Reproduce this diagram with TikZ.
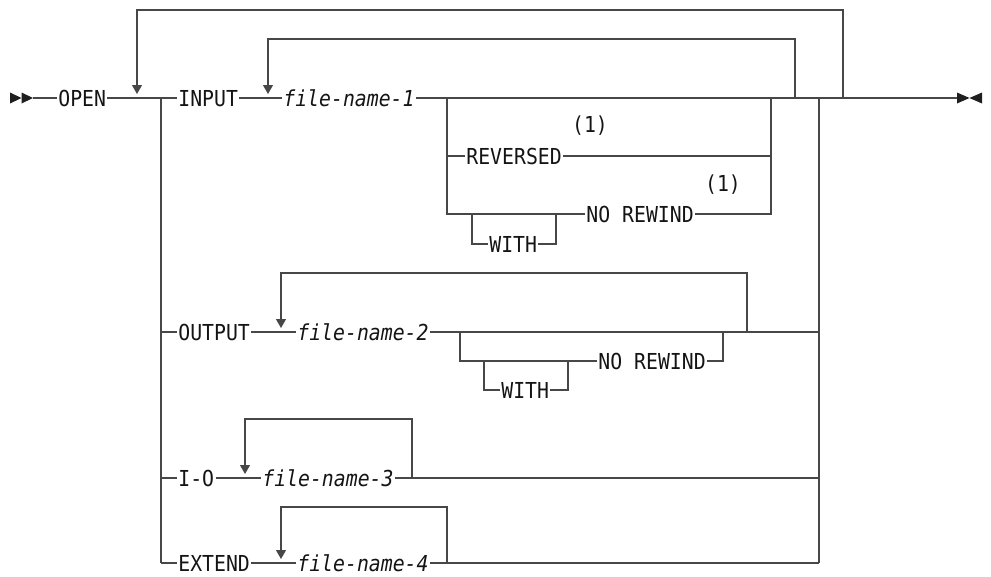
\documentclass[tikz,border=0pt]{standalone}
\usepackage{fontspec}
\setmonofont[FakeStretch=0.9]{DejaVu Sans Mono}
\usetikzlibrary{arrows.meta}
\begin{document}
\begin{tikzpicture}[x=1pt,y=-1pt,
  kw/.style={font=\ttfamily\fontsize{22}{22}\selectfont, text=black!92,
    anchor=west, inner xsep=1.2pt, inner ysep=0pt, text height=16pt, text depth=0pt},
  var/.style={kw, font=\ttfamily\itshape\fontsize{22}{22}\selectfont},
  note/.style={font=\ttfamily\fontsize{22}{22}\selectfont, text=black!92, inner sep=0pt},
  ln/.style={draw=black!72, line width=1.2pt},
  back/.style={ln, -{Triangle[width=10pt,length=9pt]}},
  tip/.style={fill=black!88, draw=none}]
\useasboundingbox (0,0) rectangle (991,576);

% ---------- INPUT row / main line ----------
\coordinate (s0) at (10,98);
\coordinate (s1) at (33,98);
\node[kw] (open) at (57,98) {OPEN};
\coordinate (oa) at (137,98);
\coordinate (b1) at (161,98);
\node[kw] (input) at (177,98) {INPUT};
\coordinate (ia) at (268,98);
\node[var] (fn1) at (282,98) {file-name-1};
\coordinate (rj) at (447,98);
\coordinate (rk) at (771,98);
\coordinate (ir) at (795,98);
\coordinate (br) at (819,98);
\coordinate (or) at (843,98);
\coordinate (e0) at (957,98);

\fill[tip] (10,92.5) -- (21.5,98) -- (10,103.5) -- cycle;
\fill[tip] (21.5,92.5) -- (33,98) -- (21.5,103.5) -- cycle;
\fill[tip] (957,92.5) -- (969.5,98) -- (957,103.5) -- cycle;
\fill[tip] (982,92.5) -- (969.5,98) -- (982,103.5) -- cycle;

\draw[ln] (s1) -- (open.west);
\draw[ln] (open.east) -- (input.west);
\draw[ln] (input.east) -- (fn1.west);
\draw[ln] (fn1.east) -- (e0);

% outer repeat loop
\draw[back] (or) -- (843,10) -- (137,10) -- (137,94);
% inner repeat loop
\draw[back] (ir) -- (795,39) -- (268,39) -- (268,94);

% REVERSED / NO REWIND options
\node[kw] (rev) at (465,156) {REVERSED};
\node[note] (n1) at (590,126) {(1)};
\draw[ln] (rj) -- (447,156) -- (rev.west);
\draw[ln] (rev.east) -- (771,156);
\node[kw] (nr1) at (585,214) {NO REWIND};
\node[note] (n2) at (723,185) {(1)};
\node[kw] (w1) at (488,244) {WITH};
\draw[ln] (447,156) -- (447,214) -- (nr1.west);
\draw[ln] (472,214) -- (472,244) -- (w1.west);
\draw[ln] (w1.east) -- (556,244) -- (556,214);
\draw[ln] (nr1.east) -- (771,214) -- (rk);

% left and right branch rails
\draw[ln] (b1) -- (161,563);
\draw[ln] (br) -- (819,563);

% ---------- OUTPUT row ----------
\node[kw] (out) at (177,332) {OUTPUT};
\node[var] (fn2) at (296,332) {file-name-2};
\draw[ln] (161,332) -- (out.west);
\draw[ln] (out.east) -- (fn2.west);
\draw[ln] (fn2.east) -- (819,332);
\draw[back] (747,332) -- (747,273) -- (281,273) -- (281,328);
\node[kw] (nr2) at (597,361) {NO REWIND};
\node[kw] (w2) at (500,390) {WITH};
\draw[ln] (460,332) -- (460,361) -- (nr2.west);
\draw[ln] (484,361) -- (484,390) -- (w2.west);
\draw[ln] (w2.east) -- (568,390) -- (568,361);
\draw[ln] (nr2.east) -- (723,361) -- (723,332);

% ---------- I-O row ----------
\node[kw] (io) at (177,478) {I-O};
\node[var] (fn3) at (261,478) {file-name-3};
\draw[ln] (161,478) -- (io.west);
\draw[ln] (io.east) -- (fn3.west);
\draw[ln] (fn3.east) -- (819,478);
\draw[back] (412,478) -- (412,419) -- (245,419) -- (245,474);

% ---------- EXTEND row ----------
\node[kw] (ext) at (177,563) {EXTEND};
\node[var] (fn4) at (296,563) {file-name-4};
\draw[ln] (161,563) -- (ext.west);
\draw[ln] (ext.east) -- (fn4.west);
\draw[ln] (fn4.east) -- (819,563);
\draw[back] (447,563) -- (447,507) -- (281,507) -- (281,559);
\end{tikzpicture}
\end{document}
